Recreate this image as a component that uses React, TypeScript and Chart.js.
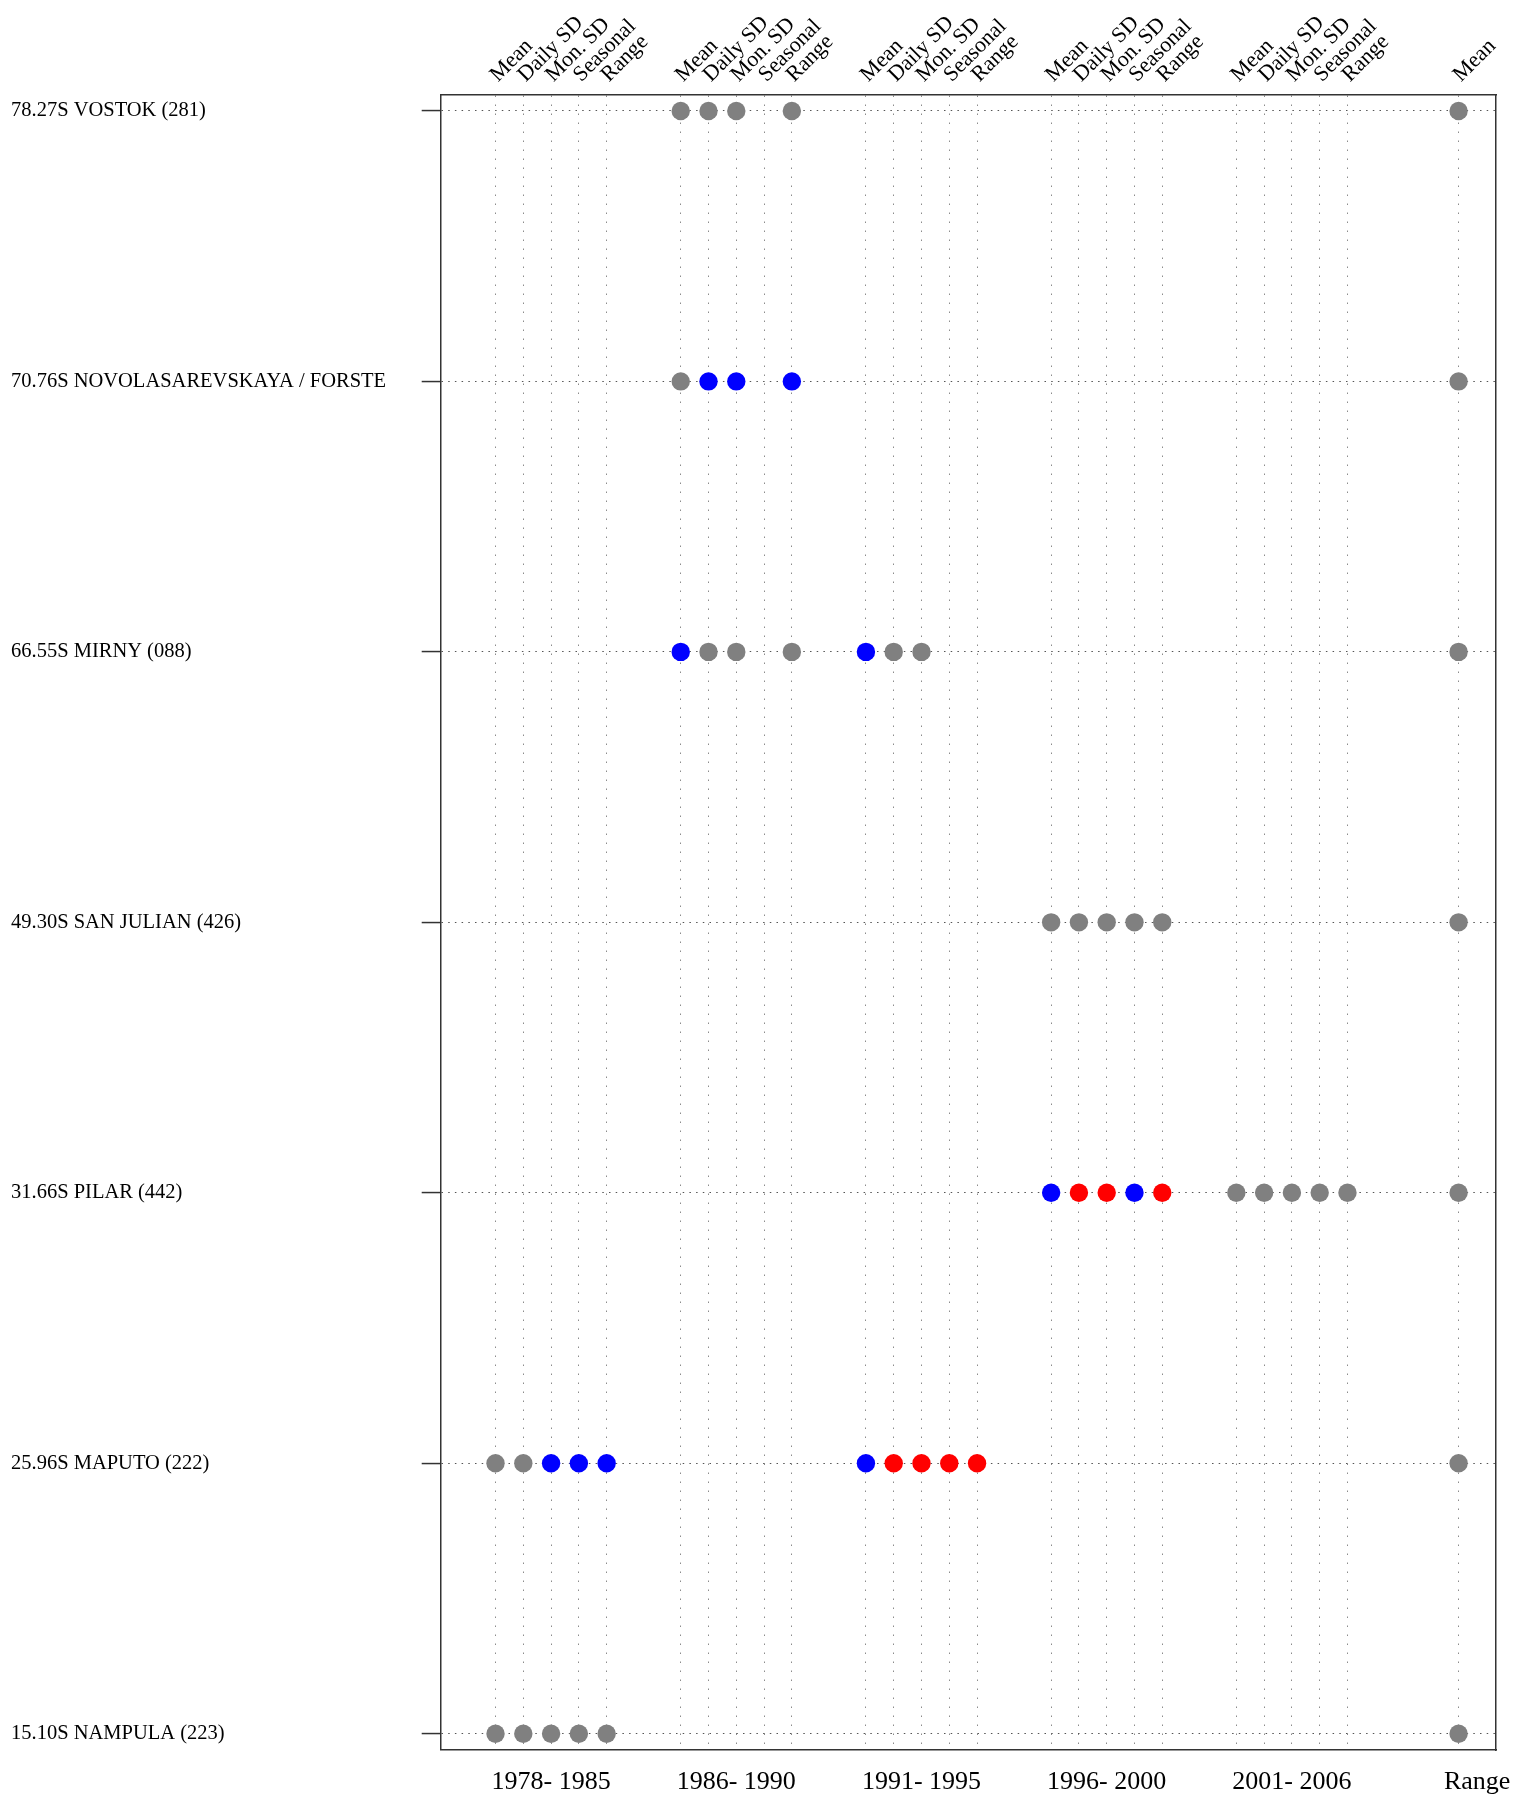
import React, { useEffect, useRef } from 'react';
import { Chart, registerables } from 'chart.js';

Chart.register(...registerables);

// ---- data ----
const stations = [
  '78.27S VOSTOK (281)',
  '70.76S NOVOLASAREVSKAYA / FORSTE',
  '66.55S MIRNY (088)',
  '49.30S SAN JULIAN (426)',
  '31.66S PILAR (442)',
  '25.96S MAPUTO (222)',
  '15.10S NAMPULA (223)',
];
const periods = ['1978- 1985', '1986- 1990', '1991- 1995', '1996- 2000', '2001- 2006'];
const bottomLabels = [...periods, 'Range'];
const statistics = ['Mean', 'Daily SD', 'Mon. SD', 'Seasonal', 'Range'];
const overallLabel = 'Mean';

// flags for each period (one char per statistic) + overall column
// g = grey, b = blue, r = red, - = no point
const vostok = ['-----', 'ggg-g', '-----', '-----', '-----', 'g'];
const novolasarevskaya = ['-----', 'gbb-b', '-----', '-----', '-----', 'g'];
const mirny = ['-----', 'bgg-g', 'bgg--', '-----', '-----', 'g'];
const sanJulian = ['-----', '-----', '-----', 'ggggg', '-----', 'g'];
const pilar = ['-----', '-----', '-----', 'brrbr', 'ggggg', 'g'];
const maputo = ['ggbbb', '-----', 'brrrr', '-----', '-----', 'g'];
const nampula = ['ggggg', '-----', '-----', '-----', '-----', 'g'];
const stationFlags = [vostok, novolasarevskaya, mirny, sanJulian, pilar, maputo, nampula];

const colorOf: Record<string, string> = { g: '#808080', b: '#0000FF', r: '#FF0000' };

// column positions on the x scale
const colStep = 0.15;
const colX = (p: number, s: number) => p + 1 + colStep * s;
const overallX = periods.length + 1.2;
const topTickValues: number[] = [];
const topTickLabels: string[] = [];
periods.forEach((_, p) => statistics.forEach((st, s) => { topTickValues.push(colX(p, s)); topTickLabels.push(st); }));
topTickValues.push(overallX);
topTickLabels.push(overallLabel);
const bottomTickValues = bottomLabels.map((_, i) => i + 1 + 2 * colStep);

const X_MIN = 0.704;
const X_MAX = 6.402;
const Y_MIN = 0.94;
const Y_MAX = 7.06;

function buildDatasets() {
  const sets: Record<string, { x: number; y: number }[]> = { g: [], b: [], r: [] };
  stationFlags.forEach((flags, row) => {
    flags.forEach((str, p) => {
      for (let s = 0; s < str.length; s++) {
        const c = str[s];
        if (c === '-') continue;
        const x = p < periods.length ? colX(p, s) : overallX;
        sets[c].push({ x, y: row + 1 });
      }
    });
  });
  return ['g', 'b', 'r'].map((k) => ({
    label: k,
    data: sets[k],
    backgroundColor: colorOf[k],
    borderColor: colorOf[k],
    borderWidth: 0,
    pointRadius: 9.2,
    pointHoverRadius: 9.2,
    showLine: false,
    xAxisID: 'x',
    yAxisID: 'y',
  }));
}

const zeroPad = (s: any) => {
  s.paddingLeft = 0;
  s.paddingRight = 0;
  s.paddingTop = 0;
  s.paddingBottom = 0;
};

const SERIF = "'Liberation Serif', 'Times New Roman', serif";
const BOX = '#333333';

export default function App() {
  const ref = useRef<HTMLCanvasElement | null>(null);

  useEffect(() => {
    if (!ref.current) return;
    const chart = new Chart(ref.current, {
      type: 'scatter',
      data: { datasets: buildDatasets() as any },
      options: {
        animation: false,
        responsive: false,
        devicePixelRatio: 1,
        layout: { padding: { left: 11, right: 18, top: 0, bottom: 0 } },
        plugins: { legend: { display: false }, tooltip: { enabled: false } },
        scales: {
          x: {
            type: 'linear',
            position: 'bottom',
            min: X_MIN,
            max: X_MAX,
            afterBuildTicks: (s: any) => { s.ticks = bottomTickValues.map((v) => ({ value: v })); },
            afterFit: (s: any) => { s.height = 49; zeroPad(s); },
            ticks: {
              autoSkip: false,
              minRotation: 0,
              maxRotation: 0,
              padding: 17,
              labelOffset: 0,
              color: '#000',
              font: { family: SERIF, size: 26 },
              callback: (_v: any, i: number) => bottomLabels[i],
            },
            grid: { display: true, drawOnChartArea: false, drawTicks: false },
            border: { display: true, color: BOX, width: 1.5 },
          },
          xTop: {
            type: 'linear',
            position: 'top',
            min: X_MIN,
            max: X_MAX,
            afterBuildTicks: (s: any) => { s.ticks = topTickValues.map((v) => ({ value: v })); },
            afterFit: (s: any) => { s.height = 94.7; zeroPad(s); },
            ticks: {
              autoSkip: false,
              minRotation: 45,
              maxRotation: 45,
              padding: 7,
              labelOffset: 17,
              color: '#000',
              font: { family: SERIF, size: 22 },
              callback: (_v: any, i: number) => topTickLabels[i],
            },
            grid: { display: true, drawOnChartArea: true, drawTicks: false, color: '#8c8c8c', lineWidth: 1 },
            border: { display: true, color: BOX, width: 1.5, dash: [1.5, 7.5] },
          },
          y: {
            type: 'linear',
            position: 'left',
            reverse: true,
            min: Y_MIN,
            max: Y_MAX,
            afterBuildTicks: (s: any) => { s.ticks = stations.map((_, i) => ({ value: i + 1 })); },
            afterFit: (s: any) => { s.width = 429.7; zeroPad(s); },
            ticks: {
              autoSkip: false,
              crossAlign: 'far',
              padding: 4,
              color: '#000',
              font: { family: SERIF, size: 20.5 },
              callback: (_v: any, i: number) => stations[i],
            },
            grid: {
              display: true,
              drawOnChartArea: true,
              drawTicks: true,
              tickLength: 19,
              tickColor: BOX,
              tickWidth: 1.5,
              tickBorderDash: [],
              color: '#555555',
              lineWidth: 1.1,
            },
            border: { display: true, color: BOX, width: 1.5, dash: [1.5, 5.2] },
          },
          yRight: {
            type: 'linear',
            position: 'right',
            reverse: true,
            min: Y_MIN,
            max: Y_MAX,
            afterFit: (s: any) => { s.width = 0; zeroPad(s); },
            ticks: { display: false },
            grid: { display: true, drawOnChartArea: false, drawTicks: false },
            border: { display: true, color: BOX, width: 1.5 },
          },
        },
      } as any,
    });
    return () => chart.destroy();
  }, []);

  return (
    <div style={{ position: 'absolute', left: 0, top: 0, width: 1514, height: 1799, background: '#fff' }}>
      <canvas ref={ref} width={1514} height={1799} style={{ width: 1514, height: 1799, display: 'block' }} />
    </div>
  );
}
